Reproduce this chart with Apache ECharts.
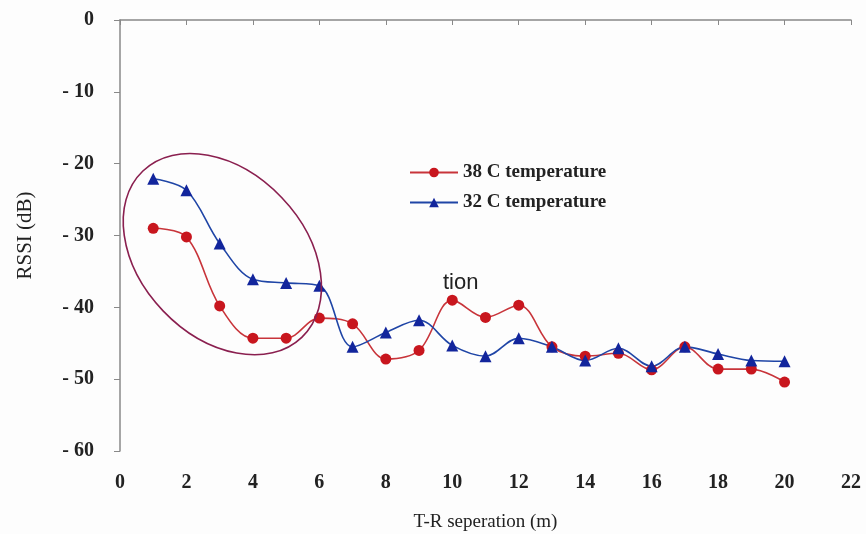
<!DOCTYPE html>
<html><head><meta charset="utf-8">
<script src="https://cdn.jsdelivr.net/npm/echarts@6/dist/echarts.min.js"></script>
<style>html,body{margin:0;padding:0;background:#fff}#c{width:866px;height:534px}</style>
</head><body><div id="c"></div>
<script>
const distances = [1,2,3,4,5,6,7,8,9,10,11,12,13,14,15,16,17,18,19,20];
const temp38 = [-29.0,-30.2,-39.8,-44.3,-44.3,-41.5,-42.3,-47.2,-46.0,-39.0,-41.4,-39.7,-45.5,-46.8,-46.4,-48.7,-45.5,-48.6,-48.6,-50.4];
const temp32 = [-22.1,-23.7,-31.1,-36.1,-36.6,-37.0,-45.5,-43.5,-41.8,-45.3,-46.8,-44.3,-45.5,-47.4,-45.7,-48.2,-45.5,-46.5,-47.4,-47.5];
const seriesNames = ['38 C temperature','32 C temperature'];
const xTicks = [0,2,4,6,8,10,12,14,16,18,20,22];
const yTicks = [0,-10,-20,-30,-40,-50,-60];

const serif = '"Liberation Serif","Times New Roman",serif';
const chart = echarts.init(document.getElementById('c'));
const option = {
  animation:false,
  backgroundColor:'#fdfdfd',
  grid:{left:120,right:15,top:20,bottom:83,containLabel:false,outerBoundsMode:'none'},
  legend:{
    orient:'vertical', left:404, top:158, itemWidth:48, itemHeight:12, itemGap:11,
    textStyle:{fontFamily:serif,fontWeight:'bold',fontSize:19,color:'#222'},
    data:seriesNames
  },
  xAxis:{
    type:'value', min:0, max:22, interval:2,
    name:'T-R seperation (m)', nameLocation:'middle', nameGap:62,
    nameTextStyle:{fontFamily:serif,fontSize:19,color:'#222'},
    axisLine:{lineStyle:{color:'#888',width:1.5}},
    axisTick:{show:true,inside:false,length:5,lineStyle:{color:'#888'}},
    axisLabel:{fontFamily:serif,fontWeight:'bold',fontSize:20,color:'#222',margin:22},
    splitLine:{show:false}
  },
  yAxis:{
    type:'value', min:-60, max:0, interval:10,
    name:'RSSI (dB)', nameLocation:'middle', nameGap:84, nameRotate:90,
    nameTextStyle:{fontFamily:serif,fontSize:21,color:'#222'},
    axisLine:{show:true,lineStyle:{color:'#888',width:1.5}},
    axisTick:{show:true,length:6,lineStyle:{color:'#888'}},
    axisLabel:{fontFamily:serif,fontWeight:'bold',fontSize:20,color:'#222',margin:26,
      formatter:v=>v<0?'- '+Math.abs(v):String(v)},
    splitLine:{show:false}
  },
  series:[
    {name:seriesNames[0],type:'line',smooth:0.35,symbol:'circle',symbolSize:11,
     data:distances.map((d,i)=>[d,temp38[i]]),
     lineStyle:{color:'#c8343a',width:1.6},
     itemStyle:{color:'#c8161e'}},
    {name:seriesNames[1],type:'line',smooth:0.35,symbol:'triangle',symbolSize:12,
     data:distances.map((d,i)=>[d,temp32[i]]),
     lineStyle:{color:'#1f45a6',width:1.6},
     itemStyle:{color:'#12259c'}}
  ]
};
chart.setOption(option);
const ctr = chart.convertToPixel({gridIndex:0},[3.08,-32.6]);
chart.setOption({graphic:[
  {type:'ellipse',x:ctr[0],y:ctr[1],rotation:-46.3*Math.PI/180,
   shape:{cx:0,cy:0,rx:115,ry:82},
   style:{fill:'none',stroke:'#8a1f4f',lineWidth:1.6},z:10},
  {type:'text',left:443,top:272,
   style:{text:'tion',font:'22px "Liberation Sans", Arial, sans-serif',fill:'#222'},z:10}
]});
</script></body></html>
